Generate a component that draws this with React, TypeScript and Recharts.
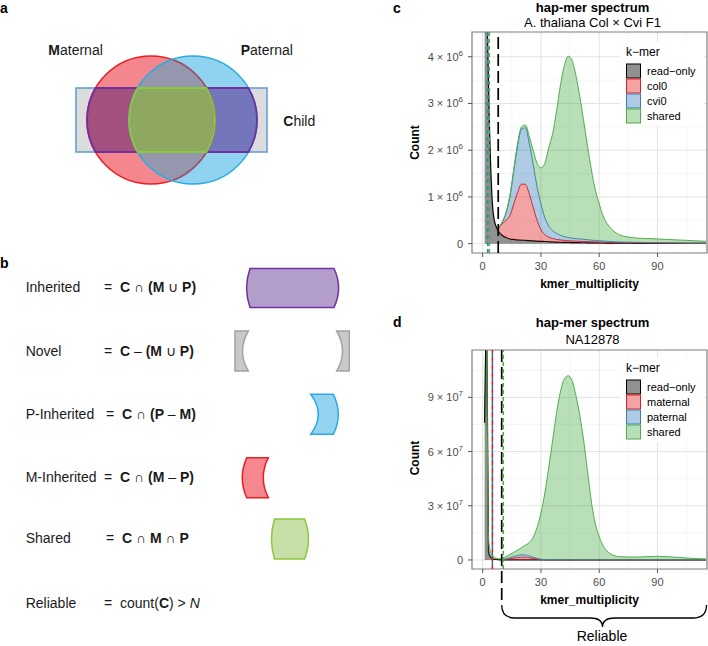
import React from "react";
import { AreaChart, Area, XAxis, YAxis, CartesianGrid, ReferenceLine, ReferenceArea } from "recharts";

const FONT = '"Liberation Sans", Arial, Helvetica, sans-serif';

// k-mer multiplicity
const MULT = [1, 2, 3, 4, 5, 6, 7, 8, 9,
  10, 12, 14, 16, 18, 20, 22, 24, 26, 28, 30, 32, 34, 36, 38, 40, 42, 44, 46, 48, 50, 52, 54, 56, 58, 60, 62, 64, 66, 68, 70,
  75, 80, 85, 90, 95, 100, 105, 110, 115];

// panel c, counts x 10^6 (stacked: read-only, col0, cvi0, shared)
const C_READ_ONLY = [25, 6.5, 3.4, 1.8, 0.85, 0.5, 0.36, 0.27, 0.22,
  0.18, 0.13, 0.1, 0.09, 0.08, 0.075, 0.07, 0.065, 0.06, 0.055, 0.05, 0.046, 0.042, 0.038, 0.034, 0.03, 0.028, 0.026, 0.024, 0.022, 0.02, 0.019, 0.018, 0.017, 0.016, 0.015, 0.014, 0.013, 0.012, 0.011, 0.01,
  0.009, 0.008, 0.007, 0.007, 0.006, 0.006, 0.005, 0.005, 0.005];
const C_COL0 = [null, null, null, null, null, null, null, 0.03, 0.16,
  0.24, 0.37, 0.5, 0.76, 1.02, 1.2, 1.2, 1.0, 0.72, 0.445, 0.25, 0.144, 0.098, 0.072, 0.056, 0.05, 0.042, 0.036, 0.034, 0.03, 0.03, 0.028, 0.026, 0.024, 0.022, 0.02, 0.018, 0.016, 0.014, 0.012, 0.01,
  0.009, 0.008, 0.007, 0.006, 0.005, 0.005, 0.004, 0.004, 0.003];
const C_CVI0 = [null, null, null, null, null, null, null, 0, 0.01,
  0.03, 0.15, 0.4, 0.7, 1.0, 1.175, 1.21, 1.08, 0.92, 0.72, 0.55, 0.37, 0.24, 0.17, 0.13, 0.1, 0.08, 0.07, 0.06, 0.055, 0.05, 0.045, 0.04, 0.035, 0.03, 0.028, 0.025, 0.022, 0.02, 0.018, 0.016,
  0.014, 0.012, 0.01, 0.009, 0.008, 0.007, 0.006, 0.005, 0.004];
const C_SHARED = [null, null, null, null, null, null, null, 0, 0,
  0.01, 0.02, 0.03, 0.04, 0.05, 0.05, 0.06, 0.15, 0.3, 0.5, 0.77, 1.16, 1.67, 2.07, 2.61, 3.2, 3.65, 3.88, 3.81, 3.49, 3.05, 2.53, 2.0, 1.5, 1.08, 0.79, 0.54, 0.38, 0.28, 0.21, 0.16,
  0.11, 0.09, 0.085, 0.08, 0.07, 0.062, 0.055, 0.046, 0.038];

// panel d, counts x 10^7 (stacked: read-only, maternal, paternal, shared)
const D_READ_ONLY = [7.6, 14, 0.45, 0.17, 0.08, 0.04, 0.025, 0.015, 0.01,
  0.008, 0.006, 0.005, 0.004, 0.004, 0.003, 0.003, 0.003, 0.003, 0.003, 0.003, 0.003, 0.003, 0.002, 0.002, 0.002, 0.002, 0.002, 0.002, 0.002, 0.002, 0.002, 0.002, 0.002, 0.002, 0.002, 0.002, 0.002, 0.002, 0.002, 0.002,
  0.002, 0.002, 0.002, 0.002, 0.002, 0.001, 0.001, 0.001, 0.001];
const D_MATERNAL = [null, null, null, null, null, null, null, null, null,
  0.01, 0.03, 0.06, 0.1, 0.13, 0.15, 0.15, 0.12, 0.08, 0.045, 0.02, 0.01, 0.006, 0.004, 0.003, 0.003, 0.003, 0.002, 0.002, 0.002, 0.002, 0.002, 0.002, 0.002, 0.002, 0.001, 0.001, 0.001, 0.001, 0.001, 0.001,
  0.001, 0.001, 0.001, 0.001, 0.001, 0.001, 0.001, 0.001, 0.001];
const D_PATERNAL = [null, null, null, null, null, null, null, null, null,
  0.01, 0.03, 0.06, 0.09, 0.12, 0.13, 0.125, 0.1, 0.07, 0.04, 0.02, 0.01, 0.006, 0.004, 0.003, 0.003, 0.003, 0.002, 0.002, 0.002, 0.002, 0.002, 0.002, 0.002, 0.002, 0.001, 0.001, 0.001, 0.001, 0.001, 0.001,
  0.001, 0.001, 0.001, 0.001, 0.001, 0.001, 0.001, 0.001, 0.001];
const D_SHARED = [null, 0.3, 0.75, 0.28, 0.17, 0.11, 0.075, 0.055, 0.06,
  0.075, 0.114, 0.175, 0.226, 0.296, 0.397, 0.542, 0.747, 1.097, 1.71, 2.557, 3.68, 5.09, 6.59, 8.09, 9.29, 9.99, 10.19, 9.94, 9.09, 7.99, 6.59, 4.89, 3.19, 1.99, 1.29, 0.79, 0.49, 0.32, 0.23, 0.18,
  0.16, 0.16, 0.18, 0.2, 0.18, 0.145, 0.105, 0.075, 0.055];

const C_LABELS = ["read\u2212only", "col0", "cvi0", "shared"];
const D_LABELS = ["read\u2212only", "maternal", "paternal", "shared"];
const SERIES_COLORS = ["#000000", "#E41A1C", "#377EB8", "#4DAF4A"];
const SERIES_OPACITY = [0.43, 0.4, 0.4, 0.4];

const X_DOMAIN = [-5.5, 115.5];
const X_TICKS = [0, 30, 60, 90];
const X_MINOR = [15, 45, 75, 105];
const C_Y_DOMAIN = [-0.2, 4.53];
const C_Y_TICKS = [0, 1, 2, 3, 4];
const C_Y_MINOR = [0.5, 1.5, 2.5, 3.5, 4.5];
const D_Y_DOMAIN = [-0.5, 11.62];
const D_Y_TICKS = [0, 3, 6, 9];
const D_Y_MINOR = [1.5, 4.5, 7.5, 10.5];

// thresholds (vertical lines)
const C_CUTOFFS = [
  { x: 2.6, color: "#377EB8", dash: "4 3", offset: 0 },
  { x: 3.4, color: "#4DAF4A", dash: "4 3", offset: 0 },
  { x: 8, color: "#000000", dash: "12 5", offset: 0 },
];
const D_CUTOFFS = [
  { x: 5, color: "#E41A1C", dash: "4 4", offset: 0 },
  { x: 5, color: "#377EB8", dash: "4 4", offset: 4 },
  { x: 9.8, color: "#000000", dash: "12 5", offset: 0, extend: 36 },
  { x: 10.6, color: "#4DAF4A", dash: "4 3", offset: 0 },
];

const SET_NAMES = ["Inherited", "Novel", "P-Inherited", "M-Inherited", "Shared", "Reliable"];
const SET_FORMULAS = [
  [["C", "b"], [" \u2229 ", "n"], ["(M", "b"], [" \u222A ", "n"], ["P)", "b"]],
  [["C", "b"], [" \u2013 ", "n"], ["(M", "b"], [" \u222A ", "n"], ["P)", "b"]],
  [["C", "b"], [" \u2229 ", "n"], ["(P", "b"], [" \u2013 ", "n"], ["M)", "b"]],
  [["C", "b"], [" \u2229 ", "n"], ["(M", "b"], [" \u2013 ", "n"], ["P)", "b"]],
  [["C", "b"], [" \u2229 ", "n"], ["M", "b"], [" \u2229 ", "n"], ["P", "b"]],
  [["count(", "n"], ["C", "b"], [") > ", "n"], ["N", "i"]],
];
const SET_ROW_Y = [286.7, 350, 413.3, 476.7, 537.3, 602.3];

const buildRows = (series: (number | null)[][]) =>
  MULT.map((m, i) => ({ m, s0: series[0][i], s1: series[1][i], s2: series[2][i], s3: series[3][i] }));

const C_ROWS = buildRows([C_READ_ONLY, C_COL0, C_CVI0, C_SHARED]);
const D_ROWS = buildRows([D_READ_ONLY, D_MATERNAL, D_PATERNAL, D_SHARED]);

const sciTick = (exp: number) => (props: any) => {
  const { x, y, payload } = props;
  const v = payload.value;
  return (
    <text x={x} y={y} dy={4} textAnchor="end" fontSize={11} fill="#4D4D4D" fontFamily={FONT}>
      {v === 0 ? (
        "0"
      ) : (
        <>
          <tspan>{`${v} \u00D7 10`}</tspan>
          <tspan dy={-5} fontSize={8}>{exp}</tspan>
        </>
      )}
    </text>
  );
};

function Spectrum(props: {
  rows: any[];
  left: number;
  top: number;
  height: number;
  marginTop: number;
  marginBottom: number;
  yDomain: number[];
  yTicks: number[];
  yMinor: number[];
  exp: number;
  cutoffs: any[];
}) {
  const { rows, left, top, height, marginTop, marginBottom, yDomain, yTicks, yMinor, exp, cutoffs } = props;
  return (
    <div style={{ position: "absolute", left, top }}>
      <AreaChart
        width={348}
        height={height}
        data={rows}
        margin={{ top: marginTop, right: 1, bottom: marginBottom, left: 52 }}
      >
        <CartesianGrid stroke="#F0F0F0" strokeWidth={0.6} horizontalValues={yMinor} verticalValues={X_MINOR} />
        <CartesianGrid stroke="#E3E3E3" strokeWidth={1} horizontalValues={yTicks} verticalValues={X_TICKS} />
        <XAxis
          type="number"
          dataKey="m"
          domain={X_DOMAIN}
          ticks={X_TICKS}
          allowDataOverflow
          axisLine={false}
          tickLine={{ stroke: "#555555" }}
          tickSize={4}
          tickMargin={5}
          tick={{ fontSize: 11, fill: "#4D4D4D", fontFamily: FONT }}
          height={30}
        />
        <YAxis
          type="number"
          domain={yDomain}
          ticks={yTicks}
          allowDataOverflow
          axisLine={false}
          tickLine={{ stroke: "#555555" }}
          tickSize={4}
          tickMargin={5}
          tick={sciTick(exp)}
          width={60}
        />
        {["s0", "s1", "s2", "s3"].map((k, i) => (
          <Area
            key={k}
            dataKey={k}
            stackId="kmer"
            type="monotone"
            stroke={SERIES_COLORS[i]}
            strokeWidth={i === 0 ? 1.2 : 1}
            fill={SERIES_COLORS[i]}
            fillOpacity={SERIES_OPACITY[i]}
            isAnimationActive={false}
            dot={false}
            activeDot={false}
          />
        ))}
        {cutoffs.map((c, i) => (
          <ReferenceLine
            key={i}
            x={c.x}
            stroke={c.color}
            strokeWidth={c.color === "#000000" ? 1.7 : 1.6}
            strokeDasharray={c.dash}
            strokeDashoffset={c.offset}
            shape={
              c.extend
                ? (p: any) => (
                    <line
                      x1={p.x1}
                      x2={p.x2}
                      y1={Math.min(p.y1, p.y2)}
                      y2={Math.max(p.y1, p.y2) + c.extend}
                      stroke={c.color}
                      strokeWidth={1.7}
                      strokeDasharray={c.dash}
                    />
                  )
                : undefined
            }
          />
        ))}
        <ReferenceArea
          x1={X_DOMAIN[0]}
          x2={X_DOMAIN[1]}
          y1={yDomain[0]}
          y2={yDomain[1]}
          fill="none"
          stroke="#7F7F7F"
          strokeWidth={1.2}
        />
      </AreaChart>
    </div>
  );
}

function KmerLegend({ x, y, labels }: { x: number; y: number; labels: string[] }) {
  return (
    <g fontFamily={FONT}>
      <rect x={x - 6} y={y - 10} width={84} height={84} fill="#ffffff" />
      <text x={x} y={y + 4} fontSize={12} fill="#000">k{"\u2212"}mer</text>
      {labels.map((lab, i) => {
        const cy = y + 19 + i * 15;
        return (
          <g key={lab}>
            <rect
              x={x + 0.5}
              y={cy - 7}
              width={14}
              height={14}
              fill={SERIES_COLORS[i]}
              fillOpacity={SERIES_OPACITY[i]}
              stroke={SERIES_COLORS[i]}
              strokeWidth={1}
            />
            <text x={x + 21} y={cy + 4} fontSize={11} fill="#000">{lab}</text>
          </g>
        );
      })}
    </g>
  );
}

const VENN_RECT = { x: 76, y: 88, w: 191, h: 64 };
const VENN_M = { cx: 151, cy: 120, r: 64 };
const VENN_P = { cx: 193, cy: 120, r: 64 };

function VennPanel() {
  const { x, y, w, h } = VENN_RECT;
  const r = VENN_M.r;
  const dx = Math.sqrt(r * r - (h / 2) * (h / 2));
  const top = y;
  const bot = y + h;
  const union = `M ${VENN_M.cx - dx} ${top} L ${VENN_P.cx + dx} ${top} A ${r} ${r} 0 0 1 ${VENN_P.cx + dx} ${bot} L ${VENN_M.cx - dx} ${bot} A ${r} ${r} 0 0 1 ${VENN_M.cx - dx} ${top} Z`;
  const lens = `M ${VENN_P.cx - dx} ${top} L ${VENN_M.cx + dx} ${top} A ${r} ${r} 0 0 1 ${VENN_M.cx + dx} ${bot} L ${VENN_P.cx - dx} ${bot} A ${r} ${r} 0 0 1 ${VENN_P.cx - dx} ${top} Z`;
  return (
    <g>
      <defs>
        <clipPath id="clipM">
          <circle cx={VENN_M.cx} cy={VENN_M.cy} r={r} />
        </clipPath>
        <clipPath id="clipP">
          <circle cx={VENN_P.cx} cy={VENN_P.cy} r={r} />
        </clipPath>
        <clipPath id="clipRect">
          <rect x={x} y={y} width={w} height={h} />
        </clipPath>
      </defs>
      <rect x={x} y={y} width={w} height={h} fill="#DCDCDC" stroke="#5B9BD5" strokeWidth={1.5} />
      <circle cx={VENN_M.cx} cy={VENN_M.cy} r={r} fill="#F4878D" />
      <circle cx={VENN_P.cx} cy={VENN_P.cy} r={r} fill="#8FD3F1" />
      <circle cx={VENN_P.cx} cy={VENN_P.cy} r={r} fill="#9497AE" clipPath="url(#clipM)" />
      <g clipPath="url(#clipRect)">
        <circle cx={VENN_M.cx} cy={VENN_M.cy} r={r} fill="#A5517F" />
        <circle cx={VENN_P.cx} cy={VENN_P.cy} r={r} fill="#7476BC" />
      </g>
      <path d={lens} fill="#8EA862" />
      <circle cx={VENN_M.cx} cy={VENN_M.cy} r={r} fill="none" stroke="#ED1C24" strokeWidth={1.5} />
      <circle cx={VENN_M.cx} cy={VENN_M.cy} r={r} fill="none" stroke="#8E5C76" strokeWidth={1.5} clipPath="url(#clipP)" />
      <circle cx={VENN_P.cx} cy={VENN_P.cy} r={r} fill="none" stroke="#29ABE2" strokeWidth={1.5} />
      <path d={union} fill="none" stroke="#7030A0" strokeWidth={1.8} />
      <path d={lens} fill="none" stroke="#8DC63F" strokeWidth={1.8} />
      <text x={48.3} y={55} fontSize={14} fontFamily={FONT} fill="#1a1a1a">
        <tspan fontWeight="bold">M</tspan>aternal
      </text>
      <text x={240.7} y={55} fontSize={14} fontFamily={FONT} fill="#1a1a1a">
        <tspan fontWeight="bold">P</tspan>aternal
      </text>
      <text x={283.3} y={126} fontSize={14} fontFamily={FONT} fill="#1a1a1a">
        <tspan fontWeight="bold">C</tspan>hild
      </text>
    </g>
  );
}

// piece outline: corners x1..x2, y1..y2; bulge > 0 outward, < 0 inward
const piece = (x1: number, x2: number, y1: number, y2: number, lb: number, rb: number) => {
  const ym = (y1 + y2) / 2;
  return `M ${x1} ${y1} L ${x2} ${y1} Q ${x2 + 2 * rb} ${ym} ${x2} ${y2} L ${x1} ${y2} Q ${x1 - 2 * lb} ${ym} ${x1} ${y1} Z`;
};

function SetsPanel() {
  const shapes = [
    { d: piece(250, 334, 268.5, 307.5, 3.4, 4.6), fill: "#B39DCB", stroke: "#7030A0" },
    { d: piece(235, 248.3, 331, 371, 0, -5.8), fill: "#C9C9C9", stroke: "#A3A3A3" },
    { d: piece(336.7, 349.3, 331, 371, -5.8, 0), fill: "#C9C9C9", stroke: "#A3A3A3" },
    { d: piece(310.7, 333.3, 394.3, 434.3, -7.6, 5), fill: "#93D3F0", stroke: "#29ABE2" },
    { d: piece(246.7, 268.3, 457.7, 497.7, 4.4, -5), fill: "#F4888E", stroke: "#ED1C24" },
    { d: piece(274.5, 304.5, 519, 559, 3, 4), fill: "#C6E0A8", stroke: "#8DC63F" },
  ];
  return (
    <g fontFamily={FONT} fontSize={14} fill="#1a1a1a">
      {SET_NAMES.map((name, i) => (
        <g key={name}>
          <text x={25.7} y={SET_ROW_Y[i] + 5.5}>{name}</text>
          <text x={i === 2 || i === 4 ? 106 : 104} y={SET_ROW_Y[i] + 5.5}>=</text>
          <text x={i === 2 || i === 4 ? 122 : 120} y={SET_ROW_Y[i] + 5.5} style={{ whiteSpace: "pre" }}>
            {SET_FORMULAS[i].map(([t, s], j) => (
              <tspan key={j} fontWeight={s === "b" ? "bold" : "normal"} fontStyle={s === "i" ? "italic" : "normal"}>
                {t}
              </tspan>
            ))}
          </text>
        </g>
      ))}
      {shapes.map((s, i) => (
        <path key={i} d={s.d} fill={s.fill} stroke={s.stroke} strokeWidth={1.5} />
      ))}
    </g>
  );
}

function Overlay() {
  return (
    <svg
      width={708}
      height={646}
      style={{ position: "absolute", left: 0, top: 0, pointerEvents: "none" }}
      fontFamily={FONT}
    >
      <text x={0} y={13} fontSize={14} fontWeight="bold">a</text>
      <text x={0} y={268} fontSize={14} fontWeight="bold">b</text>
      <text x={393} y={13} fontSize={14} fontWeight="bold">c</text>
      <text x={393} y={327} fontSize={14} fontWeight="bold">d</text>
      <VennPanel />
      <SetsPanel />

      <text x={592.5} y={11.5} fontSize={13} fontWeight="bold" textAnchor="middle">hap-mer spectrum</text>
      <text x={592.5} y={27} fontSize={13} textAnchor="middle">A. thaliana Col {"\u00D7"} Cvi F1</text>
      <text x={592.5} y={327.2} fontSize={13} fontWeight="bold" textAnchor="middle">hap-mer spectrum</text>
      <text x={592.5} y={344} fontSize={13} textAnchor="middle">NA12878</text>

      <text transform="translate(419,142.5) rotate(-90)" fontSize={12} fontWeight="bold" textAnchor="middle">Count</text>
      <text transform="translate(419,458) rotate(-90)" fontSize={12} fontWeight="bold" textAnchor="middle">Count</text>
      <text x={589.5} y={287.5} fontSize={12} fontWeight="bold" textAnchor="middle">kmer_multiplicity</text>
      <text x={589.5} y={604} fontSize={12} fontWeight="bold" textAnchor="middle">kmer_multiplicity</text>

      <KmerLegend x={626} y={52} labels={C_LABELS} />
      <KmerLegend x={626} y={368} labels={D_LABELS} />

      <path
        d="M 501.7 605 C 501.7 613, 505 618, 515 618 L 590 618 C 598 618, 602.5 621, 602.5 627 C 602.5 621, 607 618, 615 618 L 693 618 C 703 618, 706.5 613, 706.5 605"
        fill="none"
        stroke="#000"
        strokeWidth={1.3}
      />
      <text x={602} y={641} fontSize={14} textAnchor="middle">Reliable</text>
    </svg>
  );
}

export default function App() {
  return (
    <div style={{ position: "absolute", left: 0, top: 0, width: 708, height: 646, overflow: "hidden", background: "#fff" }}>
      <Spectrum
        rows={C_ROWS}
        left={360}
        top={0}
        height={320}
        marginTop={32}
        marginBottom={37}
        yDomain={C_Y_DOMAIN}
        yTicks={C_Y_TICKS}
        yMinor={C_Y_MINOR}
        exp={6}
        cutoffs={C_CUTOFFS}
      />
      <Spectrum
        rows={D_ROWS}
        left={360}
        top={320}
        height={326}
        marginTop={30}
        marginBottom={47}
        yDomain={D_Y_DOMAIN}
        yTicks={D_Y_TICKS}
        yMinor={D_Y_MINOR}
        exp={7}
        cutoffs={D_CUTOFFS}
      />
      <Overlay />
    </div>
  );
}
